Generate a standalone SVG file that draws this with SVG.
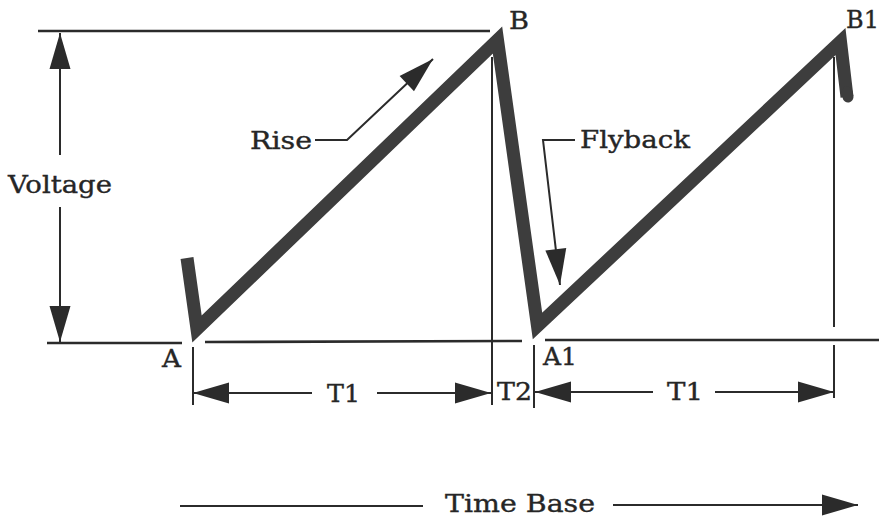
<svg xmlns="http://www.w3.org/2000/svg" width="879" height="518" viewBox="0 0 879 518">
<style>
.ln{stroke:#2b2b2b;stroke-width:2;fill:none}
.ax{stroke:#2b2b2b;stroke-width:2.6;fill:none}
.wave{stroke:#3d3d3d;stroke-width:13;fill:none;stroke-linejoin:miter;stroke-miterlimit:10}
.t{font-family:"DejaVu Serif","Liberation Serif",serif;font-size:24px;fill:#262626;stroke:#262626;stroke-width:0.35}
.arr{marker-end:url(#ah)}
</style>
<defs>
<marker id="ah" viewBox="-38 -12 40 24" refX="0" refY="0" markerWidth="40" markerHeight="24" markerUnits="userSpaceOnUse" orient="auto">
<path d="M0,0 L-36,-10.5 L-36,10.5 Z" fill="#2b2b2b"/>
</marker>
</defs>
<rect width="879" height="518" fill="#fff"/>

<g id="axes">
<line class="ax" x1="38" y1="31" x2="490" y2="31"/>
<line class="ax" x1="47" y1="343" x2="182" y2="343"/>
<line class="ax" x1="205" y1="342" x2="522" y2="341"/>
<line class="ax" x1="545" y1="340" x2="879" y2="340"/>
</g>

<g id="waveform">
<polyline class="wave" points="187,258 197,329 497.5,40 537.5,326 840.5,41.6 847,97" stroke-linecap="butt"/>
<line x1="847" y1="92" x2="848" y2="97" stroke="#3d3d3d" stroke-width="11" stroke-linecap="round"/>
</g>

<g id="connectors">
<line class="ln" x1="193" y1="347" x2="193" y2="405"/>
<line class="ln" x1="492" y1="57" x2="492" y2="405"/>
<line class="ln" x1="534" y1="345" x2="534" y2="408"/>
<line class="ln" x1="834" y1="57" x2="834" y2="327"/>
<line class="ln" x1="834" y1="345" x2="834" y2="398"/>
<line class="ln arr" x1="60" y1="155" x2="60" y2="33"/>
<line class="ln arr" x1="60" y1="207" x2="60" y2="342"/>
<line class="ln arr" x1="312" y1="393" x2="193" y2="393"/>
<line class="ln arr" x1="377" y1="393" x2="491" y2="393"/>
<line class="ln arr" x1="653" y1="392" x2="535" y2="392"/>
<line class="ln arr" x1="715" y1="392" x2="834" y2="392"/>
<line class="ln" x1="180" y1="506" x2="423" y2="506"/>
<line class="ln arr" x1="613" y1="505" x2="858" y2="505"/>
<polyline class="ln arr" points="315,140 347,140 433,59"/>
<polyline class="ln arr" points="575,140 543,140 560,285"/>
</g>

<g id="labels">
<text class="t" x="8" y="193" textLength="104" lengthAdjust="spacingAndGlyphs">Voltage</text>
<text class="t" x="250" y="149" textLength="62" lengthAdjust="spacingAndGlyphs">Rise</text>
<text class="t" x="580" y="148" textLength="110" lengthAdjust="spacingAndGlyphs">Flyback</text>
<text class="t" x="509" y="29" textLength="20" lengthAdjust="spacingAndGlyphs">B</text>
<text class="t" x="846" y="28" font-size="21">B1</text>
<text class="t" x="162" y="367" textLength="19" lengthAdjust="spacingAndGlyphs">A</text>
<text class="t" x="543" y="365" textLength="34" lengthAdjust="spacingAndGlyphs">A1</text>
<text class="t" x="327" y="402" textLength="33" lengthAdjust="spacingAndGlyphs">T1</text>
<text class="t" x="497" y="400" textLength="35" lengthAdjust="spacingAndGlyphs">T2</text>
<text class="t" x="667" y="400" textLength="36" lengthAdjust="spacingAndGlyphs">T1</text>
<text class="t" x="445" y="512" textLength="150" lengthAdjust="spacingAndGlyphs">Time Base</text>
</g>
</svg>
